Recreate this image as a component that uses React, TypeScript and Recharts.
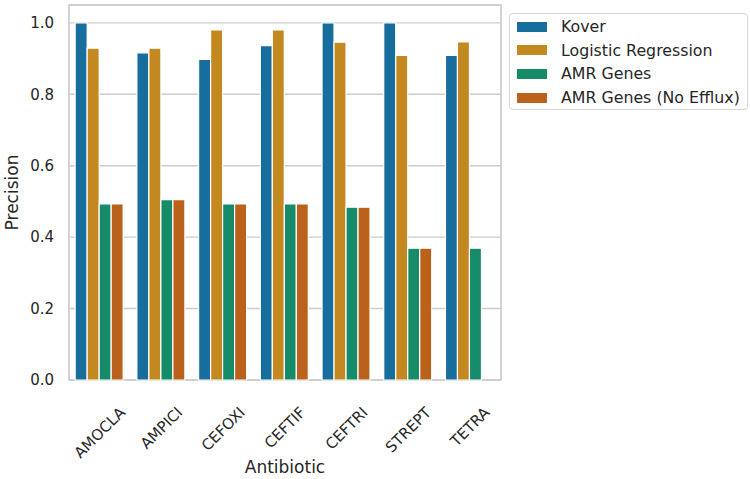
import { Bar, BarChart, CartesianGrid, Label, ReferenceArea, XAxis, YAxis } from 'recharts';

const categories = ['AMOCLA', 'AMPICI', 'CEFOXI', 'CEFTIF', 'CEFTRI', 'STREPT', 'TETRA'];
const kover = [1.0, 0.916, 0.898, 0.936, 1.0, 1.0, 0.909];
const logReg = [0.929, 0.929, 0.98, 0.98, 0.946, 0.909, 0.947];
const amrGenes = [0.493, 0.505, 0.493, 0.493, 0.484, 0.369, 0.369];
const amrNoEfflux = [0.493, 0.505, 0.493, 0.493, 0.484, 0.369, null];
const yTicks = [0, 0.2, 0.4, 0.6, 0.8, 1.0];

// seaborn colorblind palette, desaturated to 0.75 like barplot does
const SERIES = [
  { key: 'kover', name: 'Kover', fill: '#176d9c' },
  { key: 'logReg', name: 'Logistic Regression', fill: '#c38820' },
  { key: 'amr', name: 'AMR Genes', fill: '#168b6a' },
  { key: 'amrNoEfflux', name: 'AMR Genes (No Efflux)', fill: '#ba611b' },
];

const data = categories.map((c, i) => ({
  name: c,
  kover: kover[i],
  logReg: logReg[i],
  amr: amrGenes[i],
  amrNoEfflux: amrNoEfflux[i],
}));

const FONT = '"DejaVu Sans", sans-serif';
const TXT = '#262626';
const TICK_FS = 15;
const LABEL_FS = 17;

let ctx: CanvasRenderingContext2D | null = null;
function measure(s: string) {
  if (!ctx) ctx = document.createElement('canvas').getContext('2d');
  if (!ctx) return s.length * TICK_FS * 0.68;
  ctx.font = `${TICK_FS}px "DejaVu Sans"`;
  return ctx.measureText(s).width;
}

/* rotated 45°, centred on the tick like matplotlib ha='center' */
function RotTick(props: any) {
  const { x, y, payload } = props;
  const w = measure(payload.value);
  const cy = y + 18 + ((w + TICK_FS * 0.73) * 0.7071) / 2;
  return (
    <text
      x={x}
      y={cy}
      textAnchor="middle"
      dominantBaseline="central"
      fontSize={TICK_FS}
      fill={TXT}
      fontFamily={FONT}
      transform={`rotate(-45, ${x}, ${cy})`}
    >
      {payload.value}
    </text>
  );
}

export default function App() {
  return (
    <div style={{ position: 'absolute', left: 0, top: 0, width: 750, height: 479, background: '#fff', fontFamily: FONT }}>
      <BarChart
        width={750}
        height={479}
        data={data}
        margin={{ top: 5, right: 249, bottom: 0, left: 0 }}
        barCategoryGap="10%"
        barGap={0}
      >
        <CartesianGrid vertical={false} stroke="#cccccc" strokeWidth={1.4} />
        <XAxis
          dataKey="name"
          height={99}
          axisLine={false}
          tickLine={false}
          tick={<RotTick />}
          interval={0}
        >
          <Label
            content={({ viewBox }: any) => (
              <text
                x={viewBox.x + viewBox.width / 2}
                y={viewBox.y + 87}
                textAnchor="middle"
                dominantBaseline="central"
                fontSize={LABEL_FS}
                fill={TXT}
                fontFamily={FONT}
              >
                Antibiotic
              </text>
            )}
          />
        </XAxis>
        <YAxis
          width={69}
          domain={[0, 1.05]}
          ticks={yTicks}
          tickFormatter={(v: number) => v.toFixed(1)}
          axisLine={false}
          tickLine={false}
          tickSize={0}
          tickMargin={15}
          tick={{ fontSize: TICK_FS, fill: TXT, fontFamily: FONT }}
        >
          <Label
            content={({ viewBox }: any) => (
              <text
                x={12}
                y={viewBox.y + viewBox.height / 2}
                textAnchor="middle"
                dominantBaseline="central"
                fontSize={LABEL_FS}
                fill={TXT}
                fontFamily={FONT}
                transform={`rotate(-90, 12, ${viewBox.y + viewBox.height / 2})`}
              >
                Precision
              </text>
            )}
          />
        </YAxis>
        {SERIES.map((s) => (
          <Bar
            key={s.key}
            dataKey={s.key}
            name={s.name}
            fill={s.fill}
            stroke="#ffffff"
            strokeWidth={1.2}
            isAnimationActive={false}
          />
        ))}
        <ReferenceArea y1={0} y2={1.05} fill="none" stroke="#cccccc" strokeWidth={1.7} ifOverflow="visible" />
      </BarChart>

      <div
        style={{
          position: 'absolute',
          left: 509,
          top: 13,
          width: 239,
          height: 97,
          border: '1px solid #d6d6d6',
          borderRadius: 4,
          boxSizing: 'border-box',
          padding: '1px 0 0 7px',
        }}
      >
        {SERIES.map((s) => (
          <div key={s.key} style={{ display: 'flex', alignItems: 'center', height: 23.6 }}>
            <div style={{ width: 30, height: 10, background: s.fill, marginRight: 14 }} />
            <span style={{ fontSize: 15.8, color: TXT, whiteSpace: 'nowrap' }}>{s.name}</span>
          </div>
        ))}
      </div>
    </div>
  );
}
